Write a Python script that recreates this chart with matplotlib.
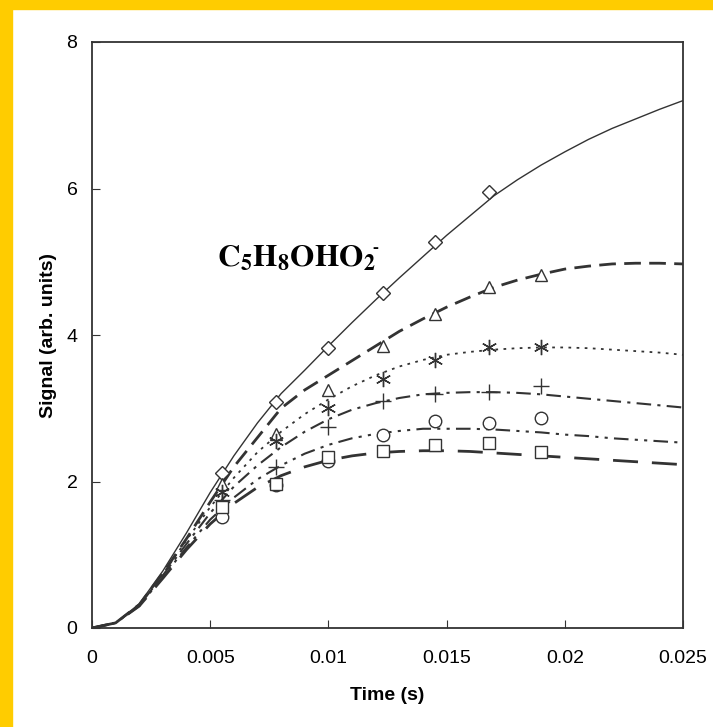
import numpy as np
import matplotlib
matplotlib.use('Agg')
import matplotlib.pyplot as plt
from matplotlib.patches import Rectangle

plt.rcParams['font.family'] = ['Liberation Sans', 'DejaVu Sans']
plt.rcParams['mathtext.fontset'] = 'stix'

# measured points
t_pts = [0.0055, 0.0078, 0.0100, 0.0123, 0.0145, 0.0168, 0.0190]
diamond = [2.12, 3.08, 3.82, 4.58, 5.27, 5.95]
triangle = [1.97, 2.65, 3.25, 3.85, 4.28, 4.65, 4.82]
star = [1.85, 2.55, 3.00, 3.40, 3.66, 3.84, 3.84]
plus = [1.75, 2.20, 2.75, 3.10, 3.20, 3.22, 3.30]
circle = [1.52, 1.95, 2.28, 2.63, 2.82, 2.80, 2.87]
square = [1.65, 1.97, 2.33, 2.42, 2.50, 2.52, 2.40]

# model curves
t_fit = [0, 0.001, 0.002, 0.003, 0.004, 0.005, 0.006, 0.007, 0.008, 0.009,
         0.010, 0.011, 0.012, 0.013, 0.014, 0.015, 0.016, 0.017, 0.018,
         0.019, 0.020, 0.021, 0.022, 0.023, 0.024, 0.025]
fit_diamond = [0, 0.07, 0.33, 0.78, 1.30, 1.85, 2.35, 2.80, 3.20, 3.52, 3.85,
               4.17, 4.48, 4.78, 5.07, 5.36, 5.63, 5.90, 6.12, 6.32, 6.50,
               6.67, 6.82, 6.95, 7.08, 7.20]
fit_triangle = [0, 0.07, 0.32, 0.75, 1.22, 1.72, 2.20, 2.60, 3.00, 3.25, 3.45,
                3.65, 3.85, 4.05, 4.22, 4.38, 4.52, 4.65, 4.75, 4.83, 4.90,
                4.94, 4.97, 4.98, 4.98, 4.97]
fit_star = [0, 0.07, 0.32, 0.74, 1.20, 1.65, 2.05, 2.40, 2.68, 2.92, 3.12,
            3.30, 3.45, 3.57, 3.66, 3.73, 3.77, 3.80, 3.82, 3.83, 3.83,
            3.82, 3.80, 3.78, 3.76, 3.73]
fit_plus = [0, 0.07, 0.31, 0.72, 1.15, 1.57, 1.93, 2.22, 2.47, 2.68, 2.85,
            2.98, 3.07, 3.14, 3.19, 3.21, 3.22, 3.22, 3.21, 3.19, 3.16,
            3.13, 3.10, 3.07, 3.04, 3.01]
fit_circle = [0, 0.07, 0.30, 0.70, 1.10, 1.48, 1.78, 2.03, 2.22, 2.38, 2.50,
              2.59, 2.65, 2.69, 2.72, 2.72, 2.72, 2.71, 2.69, 2.67, 2.64,
              2.62, 2.59, 2.57, 2.55, 2.53]
fit_square = [0, 0.07, 0.30, 0.68, 1.07, 1.42, 1.70, 1.92, 2.08, 2.20, 2.29,
              2.35, 2.39, 2.41, 2.42, 2.42, 2.41, 2.39, 2.37, 2.35, 2.33,
              2.31, 2.29, 2.27, 2.25, 2.23]

fig = plt.figure(figsize=(7.13, 7.27), dpi=100)
fig.patches.append(Rectangle((0, 0), 12/713, 1, transform=fig.transFigure,
                             color='#FFCC00', zorder=0))
fig.patches.append(Rectangle((0, 1 - 9/727), 1, 9/727, transform=fig.transFigure,
                             color='#FFCC00', zorder=0))
ax = fig.add_axes([92/713, 1 - 628/727, 591/713, 586/727])

lc = '#333333'
ax.plot(t_fit, fit_diamond, '-', color=lc, lw=1.0)
ax.plot(t_fit, fit_triangle, color=lc, lw=2.0, dashes=(6, 3))
ax.plot(t_fit, fit_star, color=lc, lw=1.3, dashes=(1.5, 3))
ax.plot(t_fit, fit_plus, color=lc, lw=1.5, dashes=(7, 3, 1.5, 3))
ax.plot(t_fit, fit_circle, color=lc, lw=1.5, dashes=(7, 3, 1.5, 3, 1.5, 3))
ax.plot(t_fit, fit_square, color=lc, lw=2.0, dashes=(9, 5))

mk = dict(linestyle='none', color=lc, mfc='white', ms=9, mew=1.0)
ax.plot(t_pts[:len(diamond)], diamond, marker='D', **{**mk, 'ms': 7.5})
ax.plot(t_pts, triangle, marker='^', **mk)
ax.plot(t_pts, star, marker=(6, 2, 0), **{**mk, 'ms': 11})
ax.plot(t_pts, plus, marker='+', **{**mk, 'ms': 11})
ax.plot(t_pts, circle, marker='o', **mk)
ax.plot(t_pts, square, marker='s', **{**mk, 'ms': 8.5})

ax.text(0.0053, 4.94, r'$\mathbf{C_5H_8OHO_2}$', fontsize=22.5,
        color='black', va='baseline')
ax.text(0.01185, 5.12, '-', fontsize=13, fontweight='bold',
        family='Liberation Serif', va='baseline', ha='left')

ax.set_xlim(0, 0.025)
ax.set_ylim(0, 8)
ax.set_xticks([0, 0.005, 0.01, 0.015, 0.02, 0.025])
ax.set_xticklabels(['0', '0.005', '0.01', '0.015', '0.02', '0.025'])
ax.set_yticks([0, 2, 4, 6, 8])
ax.tick_params(direction='in', length=6, labelsize=14, color=lc)
ax.tick_params(axis='x', pad=16)
ax.tick_params(axis='y', pad=10.5)
for s in ax.spines.values():
    s.set_color(lc)
    s.set_linewidth(1.3)
ax.set_xlabel('Time (s)', fontsize=14, fontweight='bold', labelpad=14)
ax.set_ylabel('Signal (arb. units)', fontsize=14, fontweight='bold', labelpad=7)

fig.savefig('out.png', dpi=100)
